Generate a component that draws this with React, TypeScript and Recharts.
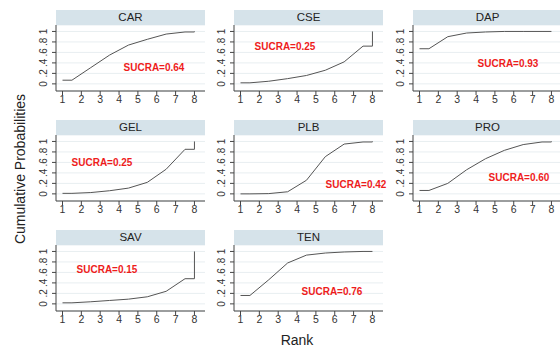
import React from "react";
import { LineChart, Line, XAxis, YAxis, CartesianGrid } from "recharts";

// treatments, in panel order
const TREATMENTS = ["CAR", "CSE", "DAP", "GEL", "PLB", "PRO", "SAV", "TEN"];

// cumulative probability of being within the first k ranks, k = 1..7 (rank 8 is always 1)
const CAR = [0.07, 0.31, 0.55, 0.74, 0.85, 0.95, 0.99];
const CSE = [0.02, 0.05, 0.1, 0.16, 0.26, 0.42, 0.72];
const DAP = [0.67, 0.9, 0.97, 0.99, 1, 1, 1];
const GEL = [0.01, 0.025, 0.06, 0.11, 0.22, 0.47, 0.85];
const PLB = [0.0, 0.005, 0.04, 0.26, 0.71, 0.95, 0.99];
const PRO = [0.065, 0.2, 0.46, 0.67, 0.83, 0.94, 0.99];
const SAV = [0.02, 0.04, 0.065, 0.09, 0.135, 0.24, 0.48];
const TEN = [0.16, 0.46, 0.78, 0.93, 0.97, 0.99, 1];

const CUMULATIVE = [CAR, CSE, DAP, GEL, PLB, PRO, SAV, TEN];
const SUCRA = ["0.64", "0.25", "0.93", "0.25", "0.42", "0.60", "0.15", "0.76"];

// x positions where the cumulative curve changes (as drawn by the original plot)
const RANK_X = [1, 1.5, 2.5, 3.5, 4.5, 5.5, 6.5, 7.5, 8, 8];
const X_TICKS = [1, 2, 3, 4, 5, 6, 7, 8];
const Y_TICKS = [0, 0.2, 0.4, 0.6, 0.8, 1];

// layout
const COL_X = [56, 234, 413];
const ROW_Y = [10, 120, 230];
const PLOT_W = 149;
const PLOT_H = 66;
const STRIP_H = 15;
const YW = 30;
const XH = 20;
// SUCRA label centres, relative to (axis x, strip top)
const LABEL_POS = [
  [98, 57],
  [51, 36],
  [95, 53],
  [46, 42],
  [122, 64],
  [106, 57],
  [51, 39],
  [98, 61],
];

const FONT = "'Liberation Sans', Arial, Helvetica, sans-serif";
const AXIS = "#444";

function buildPoints(cum: number[]) {
  const ys = [cum[0], ...cum, cum[6], 1];
  return RANK_X.map((x, i) => ({ x, y: ys[i] }));
}

function fmtY(v: number) {
  if (v === 0) return "0";
  if (v === 1) return "1";
  return String(v).replace(/^0/, "");
}

function YTick(props: any) {
  const { x, y, payload } = props;
  const bx = x - 3;
  return (
    <text
      x={bx}
      y={y}
      transform={`rotate(-90 ${bx} ${y})`}
      textAnchor="middle"
      fontSize={10}
      fill="#333"
      fontFamily={FONT}
    >
      {fmtY(payload.value)}
    </text>
  );
}

function Panel({ idx }: { idx: number }) {
  const col = idx % 3;
  const row = Math.floor(idx / 3);
  const ax = COL_X[col];
  const top = ROW_Y[row];
  const data = buildPoints(CUMULATIVE[idx]);
  const [lx, ly] = LABEL_POS[idx];
  return (
    <>
      <div
        style={{
          position: "absolute",
          left: ax,
          top,
          width: PLOT_W,
          height: STRIP_H,
          background: "#d6e3ea",
          color: "#222",
          fontSize: 11.5,
          lineHeight: `${STRIP_H}px`,
          textAlign: "center",
        }}
      >
        {TREATMENTS[idx]}
      </div>
      <div style={{ position: "absolute", left: ax - YW, top: top + STRIP_H }}>
        <LineChart
          width={YW + PLOT_W}
          height={PLOT_H + XH}
          data={data}
          margin={{ top: 0, right: 0, bottom: 0, left: 0 }}
        >
          <CartesianGrid vertical={false} stroke="#e8eef1" />
          <XAxis
            dataKey="x"
            type="number"
            domain={[0.655, 8.56]}
            ticks={X_TICKS}
            allowDataOverflow
            height={XH}
            tickSize={4}
            tickMargin={1}
            axisLine={{ stroke: AXIS }}
            tickLine={{ stroke: AXIS }}
            tick={{ fontSize: 10.5, fill: "#333", fontFamily: FONT }}
            interval={0}
          />
          <YAxis
            type="number"
            domain={[-0.136, 1.123]}
            ticks={Y_TICKS}
            allowDataOverflow
            width={YW}
            tickSize={4}
            axisLine={{ stroke: AXIS }}
            tickLine={{ stroke: AXIS }}
            tick={<YTick />}
            interval={0}
          />
          <Line
            type="linear"
            dataKey="y"
            stroke="#555"
            strokeWidth={1}
            dot={false}
            isAnimationActive={false}
          />
        </LineChart>
      </div>
      <div
        style={{
          position: "absolute",
          left: ax + lx,
          top: top + ly,
          transform: "translate(-50%, -50%)",
          color: "#ee1c1c",
          fontWeight: "bold",
          fontSize: 10,
          whiteSpace: "nowrap",
        }}
      >
        SUCRA={SUCRA[idx]}
      </div>
    </>
  );
}

export default function App() {
  return (
    <div
      style={{
        position: "absolute",
        left: 0,
        top: 0,
        width: 560,
        height: 349,
        background: "#fff",
        fontFamily: FONT,
        overflow: "hidden",
      }}
    >
      {TREATMENTS.map((_, i) => (
        <Panel key={i} idx={i} />
      ))}
      <div
        style={{
          position: "absolute",
          left: 20,
          top: 169,
          transform: "translate(-50%, -50%) rotate(-90deg)",
          fontSize: 14,
          color: "#222",
          whiteSpace: "nowrap",
        }}
      >
        Cumulative Probabilities
      </div>
      <div
        style={{
          position: "absolute",
          left: 297,
          top: 340,
          transform: "translate(-50%, -50%)",
          fontSize: 14,
          color: "#222",
          whiteSpace: "nowrap",
        }}
      >
        Rank
      </div>
    </div>
  );
}
